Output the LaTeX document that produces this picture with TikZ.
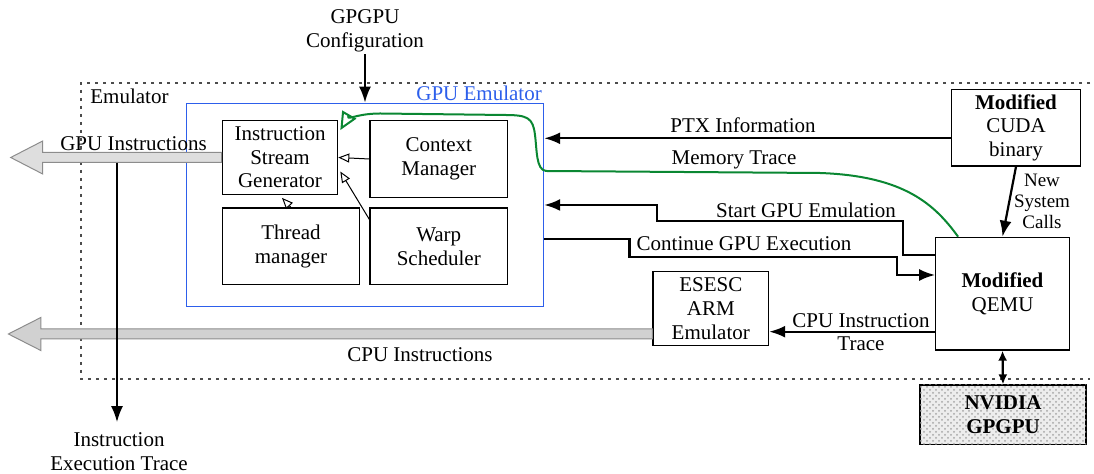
\documentclass[tikz,border=0pt]{standalone}
\usepackage{fontspec}
\setmainfont{Liberation Serif}
\usetikzlibrary{arrows.meta,calc,patterns}
\definecolor{emublue}{RGB}{45,95,235}
\definecolor{memgreen}{RGB}{10,135,50}
\tikzset{>=Latex}
\tikzstyle{block}=[rectangle,draw=black,line width=0.6pt,align=center,inner sep=1pt,font=\fontsize{10.5}{11.8}\selectfont]
\tikzstyle{lbl}=[align=center,inner sep=1pt,font=\fontsize{10.5}{11.8}\selectfont]
\tikzstyle{conn}=[line width=1.1pt,-{Latex[length=8pt,width=6pt]}]
\tikzstyle{dblconn}=[line width=1.1pt,{Latex[length=5pt,width=4.5pt]}-{Latex[length=5pt,width=4.5pt]}]
\tikzstyle{feed}=[line width=0.5pt,-{Triangle[open,length=5.5pt,width=4.5pt]}]
\tikzstyle{memline}=[draw=memgreen,line width=1pt,-{Triangle[open,length=9pt,width=8pt]}]
\tikzstyle{bigarrow}=[fill=black!13,draw=black!45,line width=0.5pt]

\begin{document}
\begin{tikzpicture}[x=0.5pt,y=-0.5pt]
\useasboundingbox (0,0) rectangle (1094,474);
\def \bw {68.75pt};
\def \bh {38.4pt};

% emulator frame
\draw[black!70,line width=0.6pt,dash pattern=on 1.5pt off 2.5pt] (1090,83) -- (81,83) -- (81,379) -- (1090,379);
\node[lbl,anchor=west] (emul) at (88,96) {Emulator};

% gpu emulator and its parts
\node[draw=emublue,line width=0.7pt,minimum width=178.5pt,minimum height=101.6pt,inner sep=0pt] (gpuemu) at (365,205) {};
\node[lbl,text=emublue,anchor=south east] (gpulbl) at (gpuemu.north east) {GPU Emulator};

\node[block,minimum width=57.7pt,minimum height=36.8pt] (isg) at (280,157.5) {Instruction\\Stream\\Generator};
\node[block,minimum width=\bw,minimum height=\bh] (ctx) at (438.75,159) {Context\\Manager};
\node[block,minimum width=\bw,minimum height=\bh] (thread) at (291,246.5) {Thread\\manager};
\node[block,minimum width=\bw,minimum height=\bh] (warp) at (438.75,246.5) {Warp\\Scheduler};

\draw[feed] (ctx.west) -- (isg.east);
\draw[feed] ($(warp.north west)+(0,12)$) -- ($(isg.east)+(2,14)$);
\draw[feed] (thread.north) -- ($(isg.south)+(2,3)$);

% outside blocks
\node[block,minimum width=64.2pt,minimum height=\bh] (cuda) at (1016,127.7) {\textbf{Modified}\\CUDA\\binary};
\node[block,minimum width=66.8pt,minimum height=56.4pt] (qemu) at (1002.5,293.7) {\textbf{Modified}\\QEMU};
\node[block,minimum width=57.8pt,minimum height=37pt] (esesc) at (710.8,308.7) {ESESC\\ARM\\Emulator};
\node[block,minimum width=83pt,minimum height=29.7pt,fill=black!7,postaction={pattern=crosshatch dots,pattern color=black!35}] (nvidia) at (1003,414.7) {\textbf{NVIDIA}\\\textbf{GPGPU}};

% big grey outputs
\draw[bigarrow] ($(isg.west)+(0,-5)$) -- ++(-179,0) -- ++(0,-11.5) -- ++(-32,16.5) -- ++(32,16.5) -- ++(0,-11.5) -- ($(isg.west)+(0,5)$) -- cycle;
\draw[bigarrow,fill=black!18] ($(esesc.west)+(0,20.3)$) -- ++(-611.6,0) -- ++(0,-11.5) -- ++(-32.4,16.5) -- ++(32.4,16.5) -- ++(0,-11.5) -- ($(esesc.west)+(0,30.3)$) -- cycle;
\node[lbl] (gpuins) at (133.5,143.5) {GPU Instructions};
\node[lbl] (cpuins) at (420,355) {CPU Instructions};

\node[lbl] (exectrace) at (119,451.5) {Instruction\\Execution Trace};
\coordinate (gpuout) at (117,162.7);
\draw[conn,shorten >=4pt] (gpuout) -- (gpuout |- exectrace.north);

\node[lbl] (cfg) at (365,31) {GPGPU\\Configuration};
\draw[conn] (cfg.south) -- (cfg.south |- gpuemu.north);

% links to qemu and cuda
\coordinate (ptxs) at ($(cuda.west)+(0,10.6)$);
\draw[conn] (ptxs) -- (ptxs -| gpuemu.east);
\node[lbl] (ptxlbl) at (743,125) {PTX Information};

\draw[memline] ($(qemu.north west)+(23,0)$) .. controls (935,205) and (905,176) .. (820,173)
   -- (546,171) .. controls (536,170) and (537,150) .. (535,135)
   .. controls (533,118) and (528,115) .. (505,115) -- (380,113.5)
   .. controls (355,113.5) and (345,122) .. ($(isg.north east)+(2,10)$);
\node[lbl] (memlbl) at (734,160) {Memory Trace};

\coordinate (sbend) at (656.6,205);
\draw[conn] ($(qemu.west)+(0,-39)$) -| (903,221) -| (sbend) -- (sbend -| gpuemu.east);
\node[lbl] (startlbl) at (806,210) {Start GPU Emulation};

\coordinate (cont0) at (600,239.3);
\coordinate (cend) at (897,275);
\draw[conn] (cont0 -| gpuemu.east) -| (629.4,257) -| (cend) -- (cend -| qemu.west);
\node[lbl] (contlbl) at (744,244) {Continue GPU Execution};

\draw[conn] (cuda.south) -- (qemu.north);
\node[lbl,font=\fontsize{9.5}{10.5}\selectfont] (syslbl) at (1042,201) {New\\System\\Calls};

\coordinate (cpus) at ($(qemu.west)+(0,38)$);
\draw[conn] (cpus) -- (cpus -| esesc.east);
\node[lbl] (tracelbl) at (861,332) {CPU Instruction\\Trace};

\draw[dblconn] (qemu.south) -- (nvidia.north);

\end{tikzpicture}
\end{document}
